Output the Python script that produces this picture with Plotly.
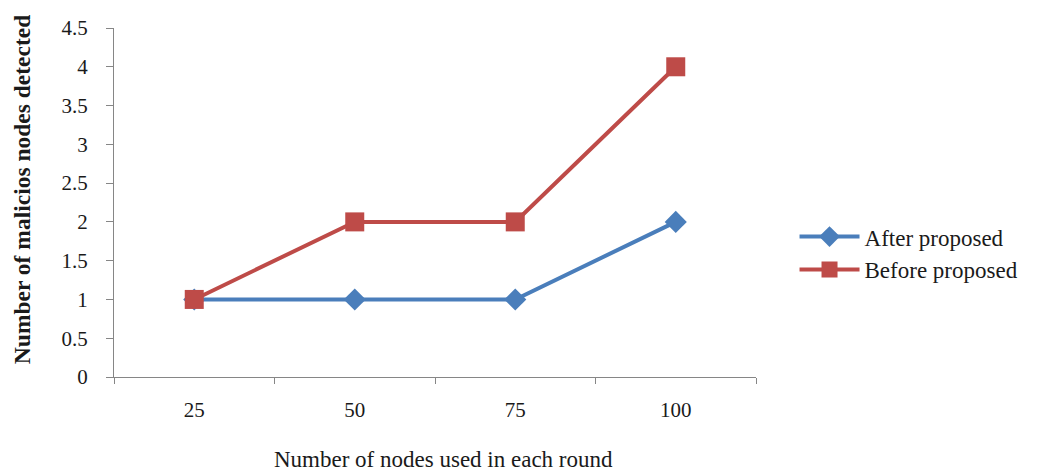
import plotly.graph_objects as go

categories = ["25", "50", "75", "100"]
after_proposed = [1, 1, 1, 2]
before_proposed = [1, 2, 2, 4]
y_ticks = [0, 0.5, 1, 1.5, 2, 2.5, 3, 3.5, 4, 4.5]
y_tick_labels = ["0", "0.5", "1", "1.5", "2", "2.5", "3", "3.5", "4", "4.5"]
x_title = "Number of nodes used in each round"
y_title = "Number of malicios nodes detected"

FONT = "Liberation Serif, Times New Roman, serif"
TXT = "#1a1a1a"
fig = go.Figure()
fig.add_trace(go.Scatter(
    x=categories, y=after_proposed, name="After proposed",
    mode="lines+markers",
    line=dict(color="#4A7EBB", width=4),
    marker=dict(symbol="diamond", size=17, color="#4A7EBB"),
))
fig.add_trace(go.Scatter(
    x=categories, y=before_proposed, name="Before proposed",
    mode="lines+markers",
    line=dict(color="#BE4B48", width=4),
    marker=dict(symbol="square", size=19, color="#BE4B48"),
))

fig.update_layout(
    width=1037, height=476,
    margin=dict(l=114, r=281, t=28, b=99, autoexpand=False),
    plot_bgcolor="white", paper_bgcolor="white",
    font=dict(family=FONT, size=21, color=TXT),
    legend=dict(x=1.06, y=0.355, xanchor="left", yanchor="middle",
                font=dict(family=FONT, size=23, color=TXT),
                itemwidth=60, tracegroupgap=4),
    xaxis=dict(
        type="category", range=[-0.5, 3.5], automargin=False,
        showline=True, linecolor="#868686", linewidth=1.3,
        ticks="outside", tickson="boundaries", ticklen=6, tickcolor="#868686",
        showgrid=False, zeroline=False,
        tickfont=dict(family=FONT, size=21, color=TXT),
        ticklabelstandoff=14,
    ),
    yaxis=dict(
        range=[0, 4.5], tickvals=y_ticks, ticktext=y_tick_labels, automargin=False,
        showline=True, linecolor="#868686", linewidth=1.3,
        ticks="outside", ticklen=7, tickcolor="#868686",
        showgrid=False, zeroline=False,
        tickfont=dict(family=FONT, size=21, color=TXT),
        ticklabelstandoff=14,
    ),
    annotations=[
        dict(
            text="<b>" + y_title + "</b>", textangle=-90,
            xref="paper", yref="paper", x=-0.143, y=0.536,
            xanchor="center", yanchor="middle", showarrow=False,
            font=dict(family=FONT, size=23.5, color=TXT),
        ),
        dict(
            text=x_title,
            xref="paper", yref="paper", x=0.513, y=-0.236,
            xanchor="center", yanchor="middle", showarrow=False,
            font=dict(family=FONT, size=23, color=TXT),
        ),
    ],
)

fig.write_html("out.html", config={"displayModeBar": False},
               post_script="document.body.style.margin='0';")
